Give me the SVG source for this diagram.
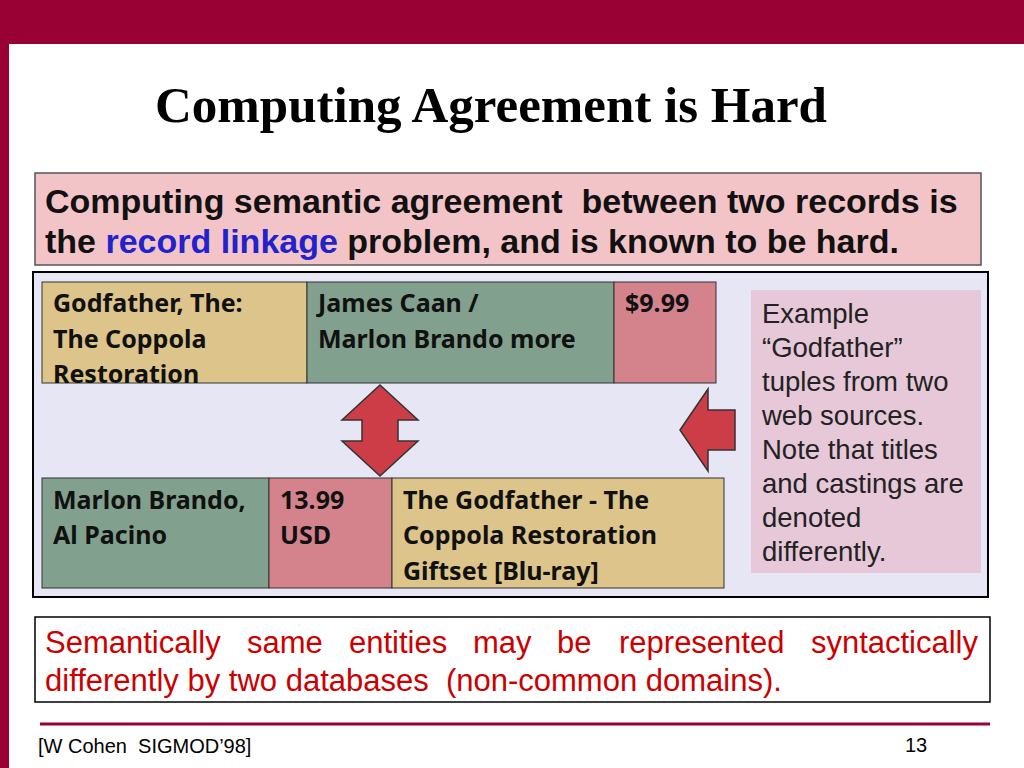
<svg xmlns="http://www.w3.org/2000/svg" width="1024" height="768" viewBox="0 0 1024 768">
<style>
.c{font-family:"Noto Sans","Open Sans",sans-serif;font-weight:bold;font-size:25px;fill:#111}
.s{font-family:"Liberation Sans",Arial,sans-serif}
.cell{stroke:#333;stroke-width:1}
.arr{fill:#cc3d47;stroke:#333;stroke-width:1.5}
</style>
<rect x="0" y="0" width="1024" height="768" fill="#fff"/>
<rect x="0" y="0" width="1024" height="44" fill="#990033"/>
<rect x="0" y="0" width="9" height="768" fill="#990033"/>
<text x="491" y="122" text-anchor="middle" font-family="Liberation Serif,serif" font-weight="bold" font-size="51" fill="#000">Computing Agreement is Hard</text>
<g id="intro">
<rect x="35" y="173" width="946" height="92" fill="#f2c4c8" stroke="#555" stroke-width="1.5"/>
<text class="s" font-size="34" font-weight="bold" fill="#111"><tspan x="45" y="213">Computing semantic agreement&#160; between two records is</tspan><tspan x="45" y="253">the <tspan fill="#2222cc">record linkage</tspan> problem, and is known to be hard.</tspan></text>
</g>
<rect x="33" y="272" width="955" height="325" fill="#e6e6f4" stroke="#000" stroke-width="2"/>
<g id="row1">
<rect class="cell" x="42" y="282" width="265" height="101" fill="#dcc48a"/>
<rect class="cell" x="307" y="282" width="307" height="101" fill="#82a08e"/>
<rect class="cell" x="614" y="282" width="102" height="101" fill="#d4838c"/>
<text class="c"><tspan x="53" y="312">Godfather, The:</tspan><tspan x="53" y="348">The Coppola</tspan><tspan x="53" y="383">Restoration</tspan></text>
<text class="c"><tspan x="318" y="312">James Caan /</tspan><tspan x="318" y="348">Marlon Brando more</tspan></text>
<text class="c" x="625" y="312">$9.99</text>
</g>
<g id="row2">
<rect class="cell" x="42" y="478" width="227" height="110" fill="#82a08e"/>
<rect class="cell" x="269" y="478" width="123" height="110" fill="#d4838c"/>
<rect class="cell" x="392" y="478" width="332" height="110" fill="#dcc48a"/>
<text class="c"><tspan x="53" y="509">Marlon Brando,</tspan><tspan x="53" y="544">Al Pacino</tspan></text>
<text class="c"><tspan x="280" y="509">13.99</tspan><tspan x="280" y="544">USD</tspan></text>
<text class="c"><tspan x="403" y="509">The Godfather - The</tspan><tspan x="403" y="544">Coppola Restoration</tspan><tspan x="403" y="580">Giftset [Blu-ray]</tspan></text>
</g>
<g id="connectors">
<path class="arr" d="M380 385 L418 420 L398 420 L398 441 L418 441 L380 476 L342 441 L362 441 L362 420 L342 420 Z"/>
<path class="arr" d="M680 430 L708 389 L708 410 L735 410 L735 450 L708 450 L708 471 Z"/>
</g>
<g id="example">
<rect x="751" y="290" width="230" height="283" fill="#e6c8d8"/>
<text class="s" font-size="27.5" fill="#222"><tspan x="762" y="323">Example</tspan><tspan x="762" y="357">“Godfather”</tspan><tspan x="762" y="391">tuples from two</tspan><tspan x="762" y="425">web sources.</tspan><tspan x="762" y="459">Note that titles</tspan><tspan x="762" y="493">and castings are</tspan><tspan x="762" y="527">denoted</tspan><tspan x="762" y="561">differently.</tspan></text>
</g>
<g id="note">
<rect x="35" y="617" width="955" height="85" fill="#fff" stroke="#000" stroke-width="1.5"/>
<text class="s" font-size="31" fill="#cc0000"><tspan x="45" y="653">Semantically</tspan><tspan x="247" y="653">same</tspan><tspan x="349" y="653">entities</tspan><tspan x="473" y="653">may</tspan><tspan x="557" y="653">be</tspan><tspan x="619" y="653">represented</tspan><tspan x="978" y="653" text-anchor="end">syntactically</tspan><tspan x="45" y="691">differently by two databases&#160; (non-common domains).</tspan></text>
</g>
<line x1="40" y1="724" x2="990" y2="724" stroke="#990033" stroke-width="3"/>
<text class="s" x="38" y="753" font-size="20" fill="#000">[W Cohen&#160; SIGMOD’98]</text>
<text class="s" x="905" y="752" font-size="20" fill="#000">13</text>
</svg>
